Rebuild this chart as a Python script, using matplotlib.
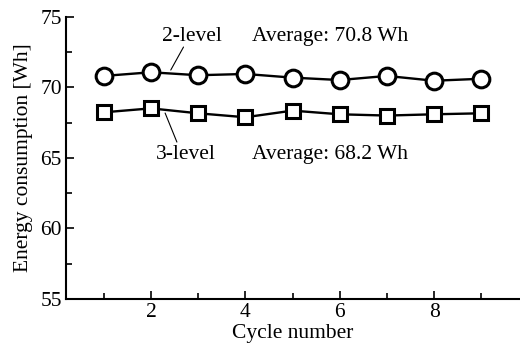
import matplotlib
matplotlib.use("Agg")
import matplotlib.pyplot as plt
from matplotlib.ticker import MultipleLocator

# data
cycles = [1, 2, 3, 4, 5, 6, 7, 8, 9]
two_level = [70.82, 71.08, 70.87, 70.96, 70.70, 70.53, 70.82, 70.48, 70.62]
three_level = [68.24, 68.52, 68.17, 67.89, 68.36, 68.10, 68.01, 68.10, 68.17]

plt.rcParams['font.family'] = ['Liberation Serif', 'DejaVu Serif']
plt.rcParams['font.size'] = 15.5

fig = plt.figure(figsize=(5.2, 3.47), dpi=100)
ax = fig.add_axes([66/520, 48/347, 1 - 66/520, 282/347])

ax.plot(cycles, two_level, color='black', lw=1.7, marker='o', ms=12,
        mfc='white', mec='black', mew=2.2)
ax.plot(cycles, three_level, color='black', lw=1.7, marker='s', ms=9.5,
        mfc='white', mec='black', mew=2.2)

ax.set_xlim(0.2, 9.82)
ax.set_ylim(55, 75)
ax.xaxis.set_major_locator(MultipleLocator(2))
ax.xaxis.set_minor_locator(MultipleLocator(1))
ax.yaxis.set_major_locator(MultipleLocator(5))
ax.yaxis.set_minor_locator(MultipleLocator(2.5))
ax.tick_params(which='both', direction='in', width=1.2, pad=3)
ax.tick_params(which='major', length=6)
ax.tick_params(which='minor', length=4)
ax.spines['top'].set_visible(False)
ax.spines['right'].set_visible(False)
ax.spines['left'].set_linewidth(1.5)
ax.spines['bottom'].set_linewidth(1.5)

ax.set_xlabel('Cycle number', labelpad=1)
ax.set_ylabel('Energy consumption [Wh]', labelpad=5)

# labels and leader lines
ax.text(2.87, 73.62, '2-level', ha='center', va='center')
ax.text(4.14, 73.62, 'Average: 70.8 Wh', ha='left', va='center')
ax.annotate('', xy=(2.42, 71.24), xytext=(2.69, 72.87),
            arrowprops=dict(arrowstyle='-', color='black', lw=0.8,
                            shrinkA=0, shrinkB=0))
ax.text(2.74, 65.28, '3-level', ha='center', va='center')
ax.text(4.14, 65.28, 'Average: 68.2 Wh', ha='left', va='center')
ax.annotate('', xy=(2.30, 68.19), xytext=(2.55, 66.13),
            arrowprops=dict(arrowstyle='-', color='black', lw=0.8,
                            shrinkA=0, shrinkB=0))

fig.savefig('out.png', dpi=100)
